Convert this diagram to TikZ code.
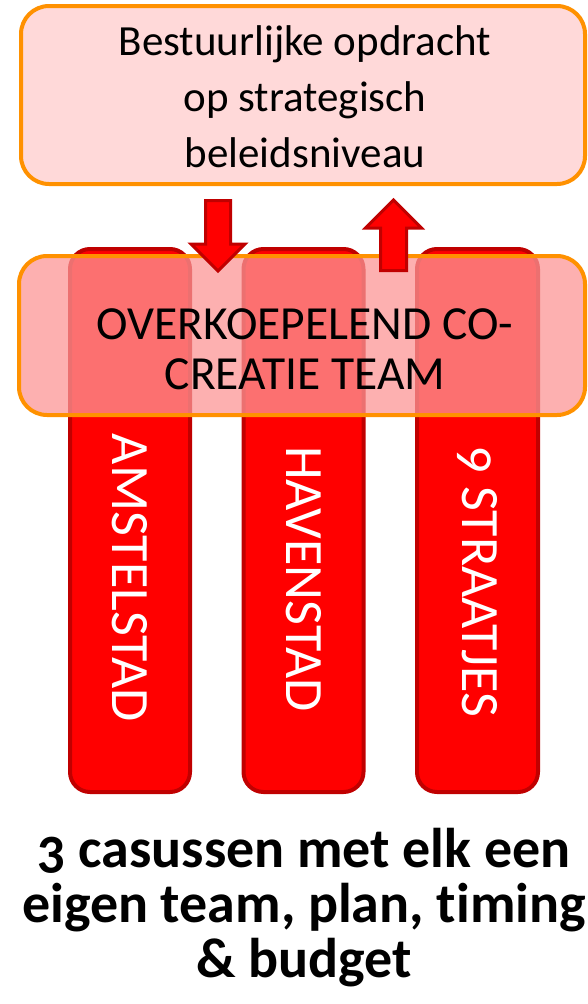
\documentclass[tikz,border=0pt]{standalone}
\usepackage{fontspec}
\setmainfont{Carlito}[Ligatures=NoCommon,Numbers=OldStyle]
\definecolor{pillarred}{RGB}{255,0,0}
\definecolor{pillarline}{RGB}{192,0,0}
\definecolor{boxorange}{RGB}{255,145,0}
\definecolor{toppink}{RGB}{255,217,217}
\definecolor{midpink}{RGB}{252,150,150}
\begin{document}
\begin{tikzpicture}[x=1pt,y=-1pt,
  pillar/.style={draw=pillarline,line width=4pt,fill=pillarred,rounded corners=20pt},
  bigbox/.style={draw=boxorange,line width=4pt,rounded corners=28pt},
  blockarrow/.style={draw=pillarline,line width=3pt,fill=pillarred,line join=miter},
  pillartext/.style={text=white,rotate=-90,font=\fontsize{54}{60}\selectfont,inner sep=0pt,anchor=center}
]
\useasboundingbox (0,0) rectangle (588,1004);
% pillars
\draw[pillar] (70,249) rectangle (190,792);
\draw[pillar] (243.5,249) rectangle (363.5,792);
\draw[pillar] (417,249) rectangle (538,792);
\node[pillartext] (p1) at (130,578) {AMSTELSTAD};
\node[pillartext] (p2) at (303.5,579) {HAVENSTAD};
\node[pillartext] (p3) at (477.5,582) {9 STRAATJES};
% top box
\draw[bigbox,fill=toppink] (21,6) rectangle (585,184);
\node[align=center,font=\fontsize{43}{56}\selectfont,inner sep=0pt] (top) at (305,97)
  {Bestuurlijke opdracht\\op strategisch\\beleidsniveau};
% middle box
\draw[bigbox,fill=midpink,fill opacity=0.75] (19,256) rectangle (585,415);
\node[align=center,font=\fontsize{47.5}{50}\selectfont,inner sep=0pt] (mid) at (305,349)
  {OVERKOEPELEND CO-\\CREATIE TEAM};
% arrows
\draw[blockarrow] (205.5,200.5) -- (230.5,200.5) -- (230.5,244) -- (245,244) -- (218,271) -- (191,244) -- (205.5,244) -- cycle;
\draw[blockarrow] (380.5,270.5) -- (406.5,270.5) -- (406.5,228) -- (421.5,228) -- (393.5,200) -- (365.5,228) -- (380.5,228) -- cycle;
% caption
\node[align=center,font=\bfseries\fontsize{56}{55}\selectfont,inner sep=0pt] (cap) at (304,908)
  {3 casussen met elk een\\eigen team, plan, timing\\\& budget};
\end{tikzpicture}
\end{document}
